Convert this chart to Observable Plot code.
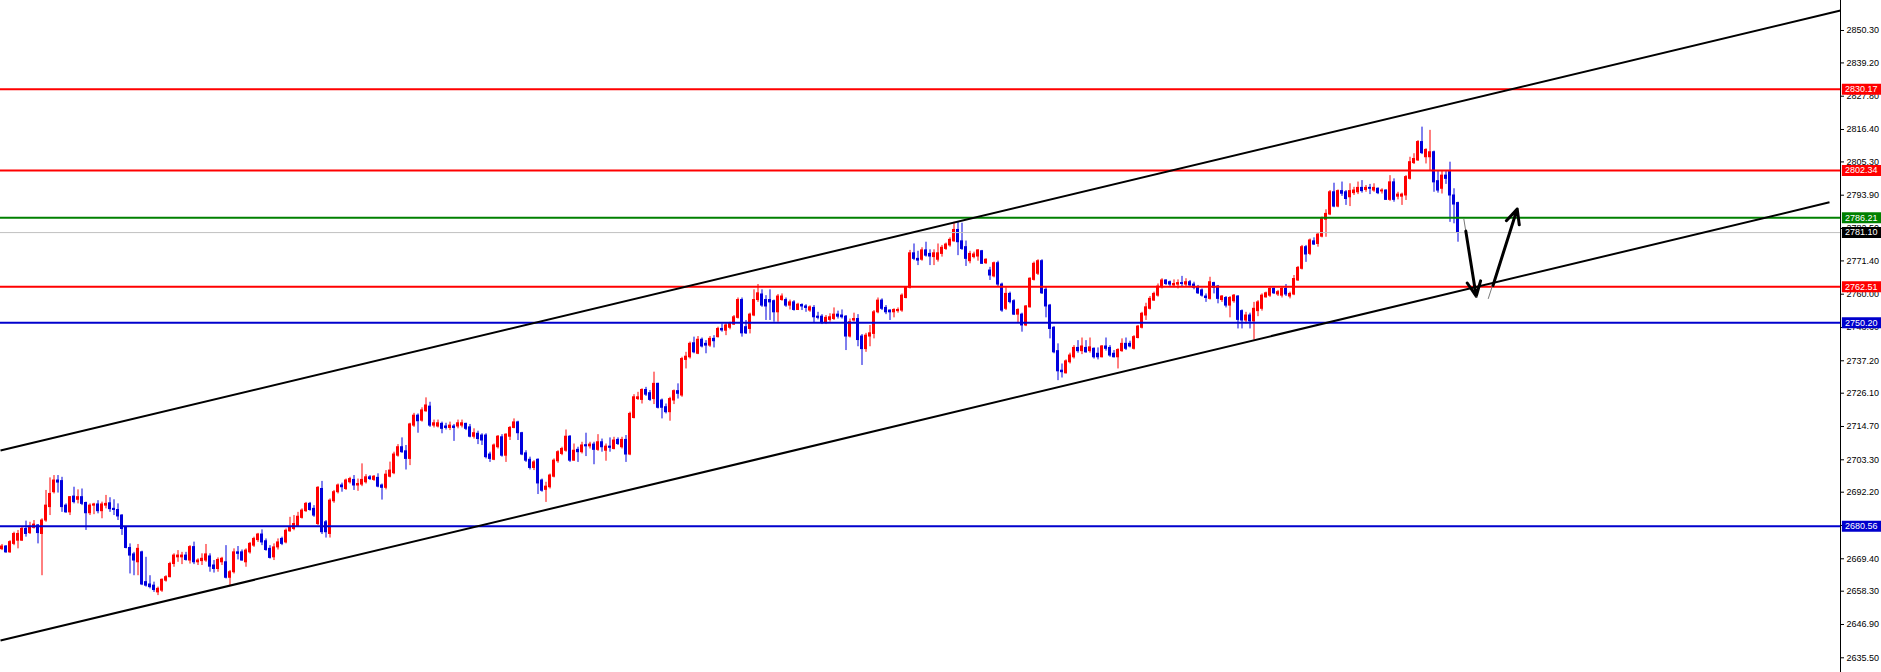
<!DOCTYPE html>
<html>
<head>
<meta charset="utf-8">
<script src="https://cdn.jsdelivr.net/npm/d3@7"></script>
<script src="https://cdn.jsdelivr.net/npm/@observablehq/plot@0.6"></script>
<style>
  html, body { margin: 0; padding: 0; background: #ffffff; }
  #chart svg { display: block; }
</style>
</head>
<body>
<div id="chart"></div>
<script>
// ---- candle data (XAUUSD-like, one value per bar) ----
const candleOpen = [
2672.7,2673.6,2671.6,2674.5,2675.6,2675.6,2679.6,2678.2,2680.0,2680.8,
2677.9,2682.5,2687.1,2692.2,2696.2,2696.0,2687.6,2685.3,2690.7,2689.6,
2690.5,2688.5,2685.0,2687.6,2688.0,2685.7,2687.6,2688.4,2686.5,2686.1,
2684.2,2680.0,2673.1,2670.9,2668.2,2671.6,2661.4,2660.6,2660.2,2657.9,
2658.5,2661.9,2663.1,2667.6,2669.9,2669.9,2670.5,2668.8,2673.4,2668.2,
2668.6,2668.8,2670.2,2667.1,2665.9,2668.2,2668.2,2662.9,2664.8,2671.6,
2671.6,2668.2,2671.6,2673.9,2675.8,2677.7,2675.4,2672.8,2669.9,2673.3,
2676.2,2675.0,2678.8,2679.6,2680.4,2683.4,2685.7,2688.2,2686.5,2681.3,
2693.3,2681.9,2677.9,2689.1,2692.2,2694.5,2693.3,2695.6,2696.4,2694.5,
2694.8,2695.6,2697.3,2696.4,2697.1,2694.5,2693.7,2697.5,2698.7,2704.7,
2707.6,2706.2,2703.6,2715.0,2718.4,2716.7,2719.9,2721.5,2715.0,2714.7,
2715.6,2714.7,2714.2,2714.7,2714.7,2715.0,2715.6,2714.4,2711.2,2712.2,
2711.6,2711.6,2705.1,2703.3,2707.6,2711.0,2704.7,2711.2,2714.2,2716.1,
2712.4,2705.5,2703.3,2700.5,2703.3,2696.2,2693.0,2693.9,2697.5,2702.8,
2705.3,2706.4,2711.2,2703.0,2706.7,2705.9,2708.3,2707.9,2708.5,2706.7,
2709.3,2706.4,2707.8,2707.0,2710.1,2707.6,2710.1,2705.1,2717.6,2724.1,
2723.8,2727.2,2726.1,2724.1,2729.3,2723.6,2721.3,2719.6,2723.6,2726.8,
2725.3,2737.5,2738.4,2743.2,2739.6,2744.4,2743.0,2742.4,2744.7,2745.3,
2748.1,2747.5,2748.5,2749.6,2751.9,2758.0,2748.7,2748.1,2752.7,2758.0,
2759.9,2758.0,2758.0,2757.6,2753.8,2758.0,2758.0,2756.1,2757.2,2754.6,
2756.3,2755.8,2754.4,2755.3,2752.3,2752.3,2750.4,2751.2,2751.5,2753.0,
2752.7,2752.3,2745.5,2751.0,2751.5,2745.5,2741.2,2745.5,2746.4,2753.8,
2757.8,2755.3,2754.4,2753.8,2754.2,2754.4,2758.7,2762.2,2774.0,2772.1,
2771.8,2775.0,2773.8,2772.7,2771.8,2773.8,2775.5,2776.7,2778.1,2782.0,
2778.1,2776.1,2771.3,2772.7,2772.9,2774.7,2770.6,2768.1,2766.1,2770.6,
2763.3,2755.0,2760.1,2757.6,2753.0,2753.0,2749.3,2755.5,2764.9,2767.0,
2771.3,2761.5,2756.1,2748.5,2740.5,2733.8,2732.9,2736.7,2738.4,2741.6,
2740.5,2741.6,2740.5,2741.3,2739.6,2738.4,2742.1,2741.6,2739.6,2738.4,
2740.5,2743.0,2743.0,2741.3,2745.0,2748.5,2752.7,2755.0,2757.8,2759.5,
2762.4,2764.7,2764.1,2763.0,2763.3,2763.8,2763.3,2764.1,2763.3,2762.2,
2761.3,2759.2,2758.4,2763.8,2762.6,2758.0,2758.7,2756.1,2757.6,2759.2,
2754.2,2751.0,2752.7,2750.7,2754.2,2755.0,2758.9,2759.5,2761.8,2759.9,
2759.5,2761.8,2759.2,2759.9,2764.7,2768.7,2776.1,2773.8,2778.1,2777.2,
2779.7,2785.5,2787.3,2794.9,2790.0,2795.3,2794.9,2793.2,2794.6,2794.9,
2796.4,2795.7,2796.4,2795.5,2796.1,2795.2,2795.5,2792.3,2798.3,2793.4,
2793.4,2793.8,2799.5,2804.9,2805.8,2812.1,2806.9,2806.9,2808.6,2798.7,
2796.1,2800.6,2801.8,2793.8,2791.2];
const candleHigh = [
2674.3,2673.9,2675.6,2678.5,2679.1,2680.2,2682.3,2681.9,2682.5,2681.1,
2683.1,2692.8,2697.1,2697.9,2697.9,2697.3,2688.2,2690.7,2693.9,2693.0,
2693.3,2688.8,2688.2,2688.4,2689.3,2688.8,2691.1,2690.3,2689.6,2688.2,
2684.5,2680.4,2674.5,2671.6,2674.3,2672.0,2669.9,2663.6,2661.4,2659.7,
2662.5,2663.6,2668.2,2671.1,2672.2,2671.6,2671.6,2673.9,2675.1,2669.4,
2671.1,2674.3,2671.1,2668.8,2669.7,2669.9,2673.9,2665.4,2672.8,2673.6,
2672.4,2672.8,2675.0,2676.8,2678.1,2679.3,2676.2,2673.9,2674.5,2676.2,
2676.8,2679.6,2683.6,2684.2,2685.3,2686.5,2688.7,2688.7,2687.6,2694.1,
2695.9,2682.5,2689.9,2692.8,2695.0,2695.3,2696.7,2697.3,2697.9,2696.7,
2701.9,2698.2,2697.9,2697.9,2698.5,2695.0,2699.6,2702.5,2705.9,2708.5,
2710.8,2708.2,2715.8,2719.2,2719.0,2721.1,2724.5,2723.0,2716.9,2716.9,
2716.2,2715.8,2716.2,2715.4,2716.9,2716.9,2715.8,2715.4,2713.9,2713.1,
2712.2,2712.2,2705.9,2708.7,2711.6,2711.9,2712.2,2714.7,2717.3,2716.5,
2712.7,2706.4,2704.2,2703.0,2703.6,2696.7,2695.6,2698.4,2703.6,2706.4,
2707.6,2713.5,2711.6,2708.7,2707.6,2709.3,2712.4,2709.3,2709.3,2711.9,
2710.4,2708.7,2710.8,2711.0,2710.8,2711.0,2711.6,2719.6,2725.6,2726.4,
2727.6,2728.1,2727.0,2733.3,2729.5,2724.1,2722.4,2724.7,2727.2,2729.3,
2738.4,2740.1,2743.6,2745.3,2745.5,2745.0,2744.1,2745.5,2745.8,2748.7,
2749.8,2750.1,2750.4,2752.7,2758.7,2758.7,2751.0,2753.5,2761.5,2763.3,
2761.5,2759.5,2761.5,2758.0,2759.9,2760.1,2758.7,2758.0,2757.8,2756.9,
2756.7,2756.4,2756.0,2756.1,2753.8,2753.0,2752.7,2753.3,2755.3,2754.2,
2754.6,2752.7,2751.5,2753.5,2753.0,2746.2,2746.6,2749.3,2754.4,2758.7,
2758.4,2756.1,2754.6,2755.0,2755.3,2760.1,2762.6,2775.0,2777.2,2774.7,
2775.9,2777.8,2775.2,2775.2,2777.2,2776.7,2777.5,2779.3,2784.6,2784.6,
2784.3,2778.2,2774.7,2774.4,2775.2,2775.0,2772.1,2769.2,2771.0,2771.3,
2763.8,2762.2,2760.7,2758.1,2755.0,2753.5,2756.1,2765.6,2771.0,2771.8,
2771.8,2762.4,2756.5,2748.9,2743.0,2736.1,2737.5,2739.8,2742.4,2744.1,
2745.0,2744.1,2745.0,2741.6,2741.6,2742.4,2745.0,2742.4,2740.7,2741.3,
2744.7,2745.0,2743.9,2745.8,2749.3,2753.8,2756.9,2759.2,2760.7,2763.5,
2765.3,2764.9,2764.5,2764.9,2764.9,2766.1,2765.3,2764.7,2764.1,2763.0,
2761.8,2760.1,2765.8,2764.1,2763.0,2759.5,2759.2,2759.2,2759.9,2759.5,
2754.6,2753.8,2753.5,2757.2,2757.8,2760.1,2760.7,2762.2,2762.2,2761.3,
2762.2,2763.3,2760.7,2766.4,2769.5,2776.7,2776.7,2778.9,2779.3,2780.9,
2786.4,2788.9,2795.5,2798.0,2795.7,2798.4,2795.5,2797.8,2796.6,2798.4,
2798.9,2797.2,2797.6,2797.8,2796.4,2796.1,2795.7,2800.6,2799.5,2794.9,
2794.6,2800.6,2806.9,2808.1,2812.6,2817.2,2809.8,2816.1,2809.0,2802.3,
2802.1,2802.1,2805.2,2796.1,2791.5];
const candleLow = [
2672.2,2671.3,2671.3,2673.9,2672.8,2675.4,2676.8,2677.7,2679.6,2674.5,
2663.6,2681.9,2684.2,2691.6,2691.9,2685.3,2685.0,2684.2,2688.2,2688.2,
2687.6,2679.1,2684.2,2684.5,2684.8,2683.1,2686.5,2685.3,2684.2,2682.5,
2677.4,2672.8,2664.2,2663.6,2663.6,2660.2,2659.7,2659.1,2657.9,2656.8,
2657.9,2661.4,2662.9,2666.5,2668.2,2667.4,2668.6,2667.6,2667.4,2667.1,
2667.1,2668.2,2664.8,2664.5,2664.8,2667.1,2662.5,2660.2,2664.2,2669.0,
2668.6,2666.5,2671.0,2673.3,2675.0,2673.9,2672.0,2669.3,2668.8,2672.4,
2673.9,2674.5,2678.5,2679.0,2680.2,2683.0,2685.3,2685.7,2683.6,2680.8,
2677.7,2676.5,2676.5,2688.4,2691.6,2692.2,2692.8,2695.0,2692.8,2692.5,
2694.1,2695.0,2696.2,2695.9,2693.7,2689.5,2693.0,2697.1,2698.2,2704.2,
2705.5,2699.8,2701.3,2714.4,2712.4,2716.2,2719.6,2714.4,2714.2,2714.2,
2712.2,2713.5,2713.3,2709.6,2713.9,2714.2,2713.3,2710.8,2710.4,2708.5,
2708.2,2703.6,2702.4,2703.0,2707.0,2704.2,2702.4,2709.9,2713.9,2709.9,
2704.7,2702.4,2699.8,2699.6,2691.4,2692.2,2688.7,2693.3,2697.1,2702.1,
2704.7,2705.9,2702.4,2702.8,2702.4,2705.3,2704.4,2707.0,2701.6,2706.2,
2705.9,2702.8,2705.9,2706.7,2708.2,2707.0,2702.4,2704.7,2717.3,2723.6,
2722.4,2725.0,2723.3,2722.2,2720.7,2717.3,2719.0,2716.5,2722.2,2724.1,
2724.7,2734.4,2737.8,2739.6,2739.3,2741.6,2739.6,2741.8,2741.6,2745.0,
2747.0,2745.8,2747.8,2749.3,2751.5,2745.3,2746.2,2746.4,2752.3,2757.2,
2755.5,2751.0,2751.0,2750.4,2750.4,2757.6,2755.5,2754.6,2754.2,2754.4,
2754.4,2753.8,2753.8,2750.1,2751.2,2749.6,2749.6,2750.4,2751.0,2751.5,
2751.5,2740.7,2745.0,2750.4,2742.0,2735.6,2740.1,2742.0,2744.7,2753.3,
2754.4,2753.0,2751.0,2751.9,2753.5,2753.8,2758.4,2761.8,2771.5,2769.8,
2771.3,2772.7,2769.8,2769.8,2771.0,2772.7,2775.0,2776.1,2777.8,2773.2,
2775.0,2769.5,2770.4,2772.1,2771.3,2770.2,2770.2,2764.7,2765.6,2762.6,
2753.8,2754.4,2756.7,2752.7,2750.1,2747.0,2748.9,2755.3,2764.5,2766.4,
2759.9,2751.9,2744.7,2739.6,2730.4,2731.3,2732.7,2736.1,2737.8,2739.8,
2739.3,2739.8,2739.8,2737.8,2737.5,2738.2,2740.5,2738.4,2738.2,2734.4,
2740.1,2740.7,2741.6,2740.9,2744.7,2748.1,2751.0,2754.6,2757.6,2759.0,
2761.8,2763.0,2762.4,2762.2,2761.8,2762.6,2762.4,2762.4,2761.5,2759.9,
2759.0,2757.2,2758.0,2760.1,2756.7,2757.2,2755.3,2751.9,2756.9,2748.1,
2748.1,2749.8,2748.1,2744.3,2752.3,2754.2,2758.7,2758.9,2759.9,2759.2,
2758.7,2759.2,2758.4,2759.5,2764.4,2768.3,2770.9,2773.2,2776.7,2776.1,
2779.3,2779.5,2786.9,2789.6,2789.6,2793.5,2790.4,2790.0,2793.8,2794.1,
2794.6,2794.9,2794.1,2794.9,2794.1,2794.3,2792.1,2791.8,2791.5,2792.3,
2790.4,2792.1,2799.1,2804.4,2805.5,2807.8,2804.6,2802.1,2794.9,2794.6,
2794.3,2797.6,2784.6,2784.1,2777.8];
const candleClose = [
2673.6,2671.6,2675.1,2677.9,2677.9,2679.6,2677.9,2680.4,2681.1,2678.2,
2682.5,2687.6,2691.6,2696.2,2695.5,2687.1,2685.3,2690.5,2688.8,2690.5,
2688.2,2685.0,2687.6,2688.0,2685.7,2688.0,2688.2,2686.4,2686.1,2683.9,
2679.6,2673.1,2670.5,2668.8,2672.8,2660.6,2660.2,2659.7,2658.7,2659.1,
2662.2,2663.1,2667.6,2670.5,2670.5,2670.5,2669.0,2673.4,2668.2,2668.8,
2669.4,2670.9,2666.7,2665.9,2669.0,2669.4,2662.9,2664.8,2671.6,2671.1,
2668.8,2672.2,2674.5,2676.2,2677.7,2675.0,2672.4,2669.7,2673.3,2675.0,
2674.5,2679.0,2680.2,2681.3,2683.8,2685.9,2688.2,2686.1,2684.2,2693.7,
2678.5,2678.5,2689.3,2692.2,2694.5,2693.9,2696.2,2696.7,2694.5,2695.0,
2696.4,2697.3,2696.7,2697.5,2694.1,2693.7,2698.2,2699.6,2705.1,2707.6,
2705.9,2703.6,2715.4,2718.4,2716.5,2720.2,2721.9,2715.0,2715.8,2715.8,
2713.9,2714.2,2715.0,2714.2,2715.8,2715.8,2713.9,2711.2,2712.4,2710.4,
2709.9,2704.2,2703.6,2708.2,2711.2,2704.7,2711.9,2714.2,2716.1,2712.4,
2705.1,2703.0,2700.5,2702.4,2695.2,2692.7,2694.1,2697.9,2703.0,2705.9,
2707.0,2711.2,2703.0,2706.4,2705.9,2708.2,2707.9,2708.5,2706.7,2709.3,
2707.6,2707.8,2707.4,2709.9,2708.7,2710.1,2705.1,2719.0,2724.7,2724.7,
2727.2,2725.6,2723.8,2729.3,2721.1,2721.1,2719.6,2724.1,2726.8,2725.9,
2737.8,2738.6,2743.0,2740.1,2744.4,2742.1,2742.4,2744.7,2743.9,2748.1,
2747.6,2749.3,2749.8,2752.1,2758.0,2746.6,2746.6,2753.0,2758.0,2760.3,
2756.1,2755.8,2757.2,2753.8,2759.2,2759.2,2756.1,2757.2,2754.6,2756.4,
2755.8,2755.3,2755.5,2752.1,2751.9,2750.4,2751.9,2752.1,2753.0,2752.3,
2752.1,2745.5,2750.4,2751.5,2744.3,2741.2,2745.8,2746.6,2753.8,2757.8,
2755.0,2753.8,2753.8,2754.6,2754.6,2759.5,2762.2,2774.0,2772.1,2771.5,
2775.0,2773.2,2772.9,2774.0,2774.0,2775.9,2777.0,2778.6,2782.0,2777.8,
2775.5,2772.1,2773.8,2773.6,2775.0,2770.4,2771.8,2766.4,2770.6,2763.3,
2754.4,2760.1,2757.3,2753.0,2754.6,2749.3,2755.8,2765.3,2770.4,2771.3,
2760.3,2755.8,2748.1,2740.1,2733.6,2733.3,2737.0,2739.0,2741.6,2740.5,
2742.1,2740.1,2741.8,2738.4,2738.4,2742.1,2741.3,2739.0,2738.4,2740.9,
2743.0,2741.3,2742.1,2745.3,2748.9,2753.3,2755.5,2758.4,2760.1,2762.6,
2764.7,2763.5,2763.3,2763.5,2763.8,2763.5,2764.1,2763.0,2762.2,2760.3,
2759.5,2758.7,2764.1,2762.2,2758.4,2759.2,2756.1,2758.7,2759.5,2751.2,
2751.0,2752.7,2750.7,2755.0,2757.2,2759.5,2760.3,2761.8,2760.3,2760.7,
2761.8,2759.9,2760.1,2765.2,2769.0,2776.1,2773.6,2778.4,2777.0,2780.4,
2785.8,2787.5,2794.9,2790.0,2795.3,2794.4,2792.6,2795.3,2795.5,2796.4,
2795.3,2796.4,2796.1,2796.4,2794.6,2795.5,2792.3,2798.3,2792.3,2794.1,
2794.1,2800.1,2805.2,2806.3,2812.1,2808.3,2809.4,2808.6,2798.3,2795.5,
2800.6,2799.5,2793.8,2790.7,2781.1];

// ---- price axis tick labels ----
const yTicks = [2861.70,2850.30,2839.20,2827.80,2816.40,2805.30,2793.90,2782.50,2771.40,2760.00,
  2748.60,2737.20,2726.10,2714.70,2703.30,2692.20,2680.80,2669.40,2658.30,2646.90,2635.50];

// ---- horizontal levels ----
const levelValues = [2830.17, 2802.34, 2786.21, 2781.10, 2762.51, 2750.20, 2680.56];
const levelKinds  = ["resistance","resistance","pivot","bid","resistance","support","support"];

// ---- channel trend lines (bar index, price) ----
const channelStartX = [-0.375, -0.375];
const channelStartY = [2706.46, 2641.39];
const channelEndX   = [459.625, 456.875];
const channelEndY   = [2857.15, 2791.46];

// ---- projected path arrows (bar index, price) ----
const arrowTailX = [365.45, 371.55];
const arrowTailY = [2785.8, 2758.4];
const arrowStartX = [365.95, 372.75];
const arrowStartY = [2781.6, 2763.0];
const arrowEndX = [368.55, 378.8];
const arrowEndY = [2759.3, 2789.2];

// ---- rendering ----
const RED = "#ff0000", BLUE = "#0000dd";
const kindColor = {resistance: "#ff0000", pivot: "#008000", bid: "#000000", support: "#0000cd"};
const kindLine  = {resistance: "#ff0000", pivot: "#008000", bid: "#c0c0c0", support: "#0000cd"};

const W = 1881, H = 672;
const xDomain = [-0.375, 459.625];
const yDomain = [2630.46, 2860.57];
const idx = d3.range(candleOpen.length);
const lv = d3.range(levelValues.length);
const ch = d3.range(channelStartX.length);
const ar = d3.range(arrowEndX.length);
const up = i => candleClose[i] >= candleOpen[i];

const chart = Plot.plot({
  width: W, height: H,
  marginLeft: 0, marginRight: 41, marginTop: 0, marginBottom: 0,
  x: {domain: xDomain, axis: null},
  y: {domain: yDomain, axis: null},
  style: {fontFamily: "'Liberation Sans', Arial, sans-serif", fontSize: "9px", color: "#000", background: "#fff"},
  marks: [
    // wicks
    Plot.ruleX(idx, {x: i => i, y1: i => candleLow[i], y2: i => candleHigh[i],
      stroke: i => up(i) ? RED : BLUE, strokeWidth: 1}),
    // bodies
    Plot.rect(idx, {filter: up, x1: i => i - 0.375, x2: i => i + 0.375,
      y1: i => candleOpen[i], y2: i => candleClose[i], fill: RED, insetTop: -0.5, insetBottom: -0.5}),
    Plot.rect(idx, {filter: i => !up(i), x1: i => i - 0.375, x2: i => i + 0.375,
      y1: i => candleClose[i], y2: i => candleOpen[i], fill: BLUE, insetTop: -0.5, insetBottom: -0.5}),
    // horizontal levels
    Plot.ruleY(lv, {y: i => levelValues[i], x1: xDomain[0], x2: xDomain[1],
      stroke: i => kindLine[levelKinds[i]], strokeWidth: i => levelKinds[i] === "bid" ? 1 : 2}),
    // channel
    Plot.link(ch, {x1: i => channelStartX[i], y1: i => channelStartY[i],
      x2: i => channelEndX[i], y2: i => channelEndY[i], stroke: "#000", strokeWidth: 2}),
    // arrows
    Plot.link(ar, {x1: i => arrowTailX[i], y1: i => arrowTailY[i],
      x2: i => arrowEndX[i], y2: i => arrowEndY[i], stroke: "#777", strokeWidth: 1}),
    Plot.arrow(ar, {x1: i => arrowStartX[i], y1: i => arrowStartY[i],
      x2: i => arrowEndX[i], y2: i => arrowEndY[i], stroke: "#000", strokeWidth: 3,
      headLength: 8, headAngle: 50, bend: 0}),
    // price axis
    Plot.ruleX([xDomain[1]], {stroke: "#000", strokeWidth: 1}),
    Plot.axisY(yTicks, {anchor: "right", tickSize: 3, tickPadding: 3,
      tickFormat: d => d.toFixed(2), label: null, fill: "#000"}),
    // level tags on the axis
    Plot.ruleY(lv, {y: i => levelValues[i], x1: 460.1, x2: 470.5,
      stroke: i => kindColor[levelKinds[i]], strokeWidth: 11}),
    Plot.text(lv, {y: i => levelValues[i], x: 460.75, text: i => levelValues[i].toFixed(2),
      textAnchor: "start", fill: "#fff"})
  ]
});
document.getElementById("chart").appendChild(chart);
</script>
</body>
</html>
